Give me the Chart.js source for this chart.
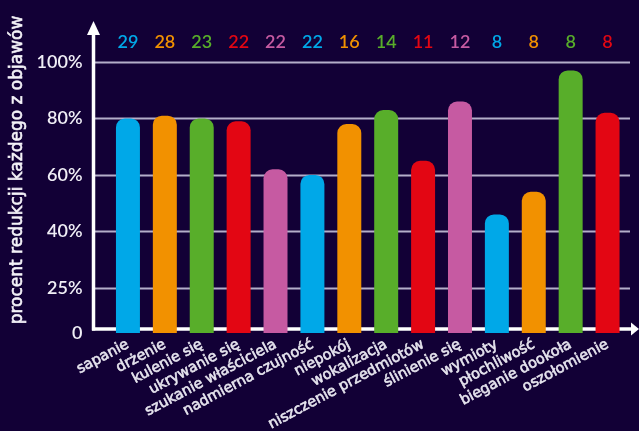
<!DOCTYPE html>
<html>
<head>
<meta charset="utf-8">
<script src="https://cdn.jsdelivr.net/npm/chart.js@4/dist/chart.umd.min.js"></script>
<style>
  html, body { margin: 0; padding: 0; background: #120036; }
  #wrap { width: 639px; height: 431px; position: relative; }
</style>
</head>
<body>
<div id="wrap"><canvas id="c"></canvas></div>
<script>
const categories = ['sapanie', 'drżenie', 'kulenie się', 'ukrywanie się', 'szukanie właściciela',
  'nadmierna czujność', 'niepokój', 'wokalizacja', 'niszczenie przedmiotów', 'ślinienie się',
  'wymioty', 'płochliwość', 'bieganie dookoła', 'oszołomienie'];
const reductionPct = [80, 81, 80, 79, 62, 60, 78, 83, 65, 86, 46, 54, 97, 82];
const counts = [29, 28, 23, 22, 22, 22, 16, 14, 11, 12, 8, 8, 8, 8];
const barColors = ['#00a8e8', '#f29100', '#58ae2a', '#e30613', '#c65aa2',
  '#00a8e8', '#f29100', '#58ae2a', '#e30613', '#c65aa2',
  '#00a8e8', '#f29100', '#58ae2a', '#e30613'];
const yTickValues = [4, 20, 40, 60, 80, 100];
const yTickLabels = ['0', '25%', '40%', '60%', '80%', '100%'];
const yTitle = 'procent redukcji każdego z objawów';

const FONT = 'Lato, "Open Sans", sans-serif';
const WIDE = '"DejaVu Sans", sans-serif';

const decor = {
  id: 'decor',
  beforeDatasetsDraw(chart) {
    const ctx = chart.ctx, ca = chart.chartArea, y = chart.scales.y;
    const axX = ca.left - 16, axY = ca.bottom - 4;
    ctx.save();
    ctx.strokeStyle = '#b4aec9';
    ctx.lineWidth = 2;
    yTickValues.slice(1).forEach(v => {
      const py = Math.round(y.getPixelForValue(v)) + 0.5;
      ctx.beginPath(); ctx.moveTo(axX, py); ctx.lineTo(ca.right + 4, py); ctx.stroke();
    });
    ctx.strokeStyle = '#ffffff';
    ctx.fillStyle = '#ffffff';
    ctx.lineWidth = 3.5;
    ctx.beginPath(); ctx.moveTo(axX, axY + 1.5); ctx.lineTo(axX, 34); ctx.stroke();
    ctx.beginPath(); ctx.moveTo(axX - 1.5, axY); ctx.lineTo(chart.width - 8, axY); ctx.stroke();
    ctx.beginPath(); ctx.moveTo(axX, 21); ctx.lineTo(axX - 6.5, 35); ctx.lineTo(axX + 6.5, 35); ctx.closePath(); ctx.fill();
    const tipX = chart.width;
    ctx.beginPath(); ctx.moveTo(tipX, axY); ctx.lineTo(tipX - 8, axY - 6.5); ctx.lineTo(tipX - 8, axY + 6.5); ctx.closePath(); ctx.fill();
    ctx.restore();
  },
  afterDraw(chart) {
    const ctx = chart.ctx, x = chart.scales.x;
    ctx.save();
    ctx.font = '600 18px ' + FONT;
    ctx.textAlign = 'center';
    ctx.textBaseline = 'middle';
    counts.forEach((n, i) => {
      ctx.fillStyle = barColors[i];
      ctx.fillText(String(n), x.getPixelForValue(i), 42);
    });
    ctx.translate(18, 170);
    ctx.rotate(-Math.PI / 2);
    ctx.fillStyle = '#f4f2f8';
    ctx.strokeStyle = '#f4f2f8';
    ctx.lineWidth = 0.6;
    ctx.font = '17px ' + WIDE;
    ctx.fillText(yTitle, 0, 0);
    ctx.strokeText(yTitle, 0, 0);
    ctx.restore();
  }
};

new Chart(document.getElementById('c'), {
  type: 'bar',
  data: {
    labels: categories,
    datasets: [{
      data: reductionPct,
      backgroundColor: barColors,
      borderRadius: 9,
      borderSkipped: false,
      categoryPercentage: 1,
      barPercentage: 0.65
    }]
  },
  options: {
    responsive: true,
    maintainAspectRatio: false,
    animation: false,
    layout: { padding: { top: 62, right: 13, bottom: 0, left: 0 } },
    plugins: { legend: { display: false }, tooltip: { enabled: false } },
    scales: {
      x: {
        grid: { display: false, drawTicks: false },
        border: { display: false },
        afterFit: s => { s.height = 98; },
        ticks: {
          color: '#e6e4ee',
          textStrokeColor: '#e6e4ee',
          textStrokeWidth: 0.6,
          font: { family: WIDE, size: 14.5 },
          maxRotation: 28, minRotation: 28, autoSkip: false, padding: 3
        }
      },
      y: {
        min: yTickValues[0], max: 100,
        grid: { display: false, drawTicks: false },
        border: { display: false },
        afterFit: s => { s.width = 109.5; },
        afterBuildTicks: s => { s.ticks = yTickValues.map(v => ({ value: v })); },
        ticks: {
          color: '#f0eef6',
          font: { family: FONT, size: 18, weight: '600' },
          padding: 27,
          callback: (v, i) => yTickLabels[i]
        }
      }
    }
  },
  plugins: [decor]
});
</script>
</body>
</html>
